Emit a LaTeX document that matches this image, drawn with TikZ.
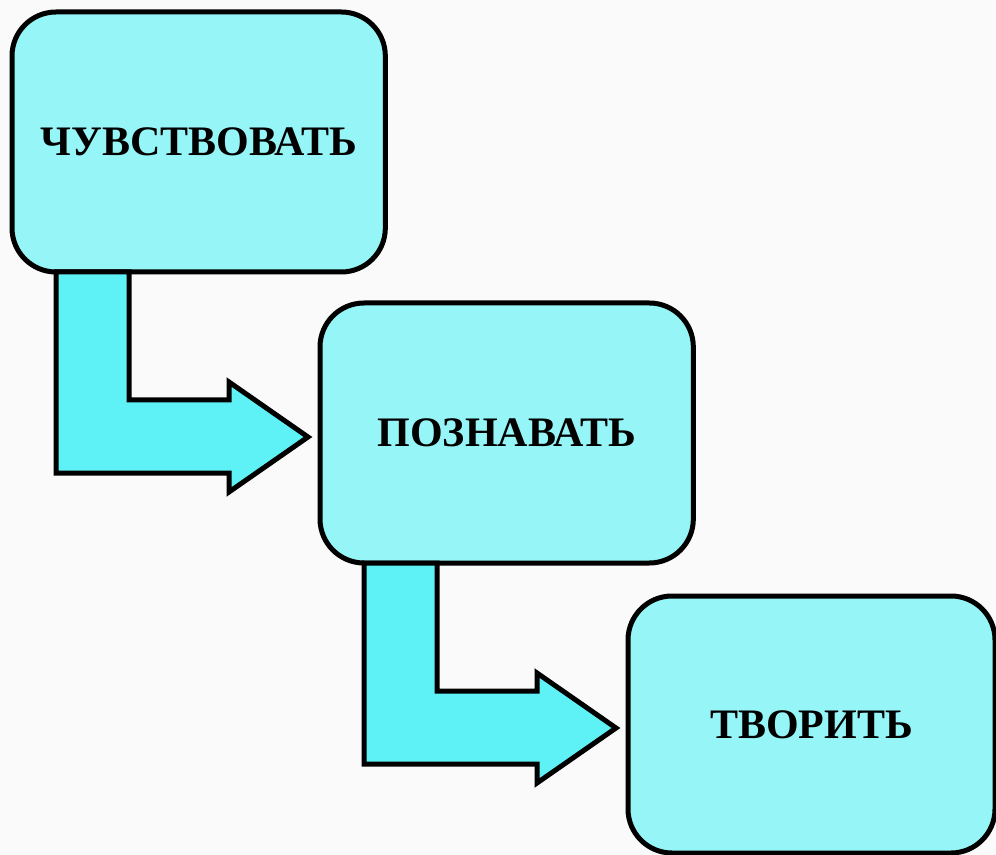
\documentclass[tikz,border=0pt]{standalone}
\usepackage{fontspec}
\setmainfont{Liberation Serif}
\definecolor{bg}{RGB}{250,250,250}
\definecolor{boxcyan}{RGB}{150,245,247}
\definecolor{arrcyan}{RGB}{94,242,246}
\tikzset{
  stagebox/.style={draw=black, line width=3.75pt, fill=boxcyan, rounded corners=33pt,
    inner sep=0pt, outer sep=0pt, anchor=north west,
    font=\fontsize{31.5}{36}\selectfont\bfseries},
  elbowarrow/.style={draw=black, line width=3.75pt, fill=arrcyan, line join=miter}
}
\newcommand{\elbowpath}{(44,0) -- (117,0) -- (117,128) -- (217,128) -- (217,110) -- (296,165) -- (217,220) -- (217,201) -- (44,201) -- cycle}
\begin{document}
\begin{tikzpicture}[x=0.75pt,y=-0.75pt]
\fill[bg] (0,0) rectangle (996,855);
\useasboundingbox (0,0) rectangle (996,855);
\clip (0,0) rectangle (996,855);
\node[stagebox, minimum width=280pt, minimum height=195pt] (b1) at (12,12) {ЧУВСТВОВАТЬ};
\node[stagebox, minimum width=280pt, minimum height=195pt] (b2) at (320,303) {ПОЗНАВАТЬ};
\node[stagebox, minimum width=275.25pt, minimum height=192.75pt] (b3) at (628,596) {ТВОРИТЬ};
\draw[elbowarrow, shift={(b1.south west)}] \elbowpath;
\draw[elbowarrow, shift={(b2.south west)}] \elbowpath;
\end{tikzpicture}
\end{document}
